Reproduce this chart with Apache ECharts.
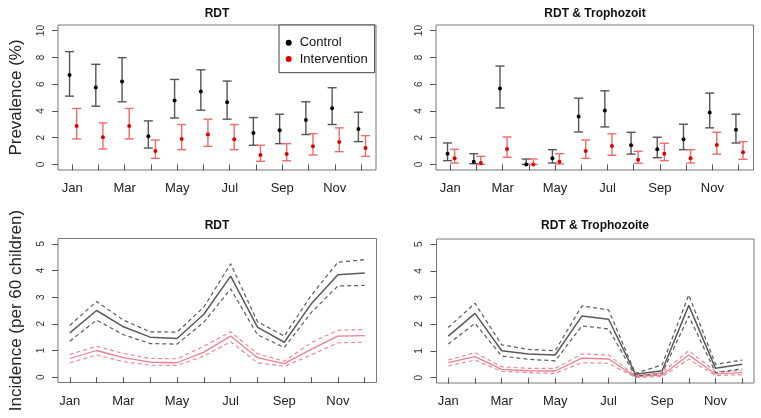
<!DOCTYPE html>
<html>
<head>
<meta charset="utf-8">
<script src="https://cdn.jsdelivr.net/npm/echarts@6/dist/echarts.min.js"></script>
<style>
html,body{margin:0;padding:0;background:#fff;}
#chart{width:761px;height:418px;}
</style>
</head>
<body>
<div id="chart"></div>
<script>
// ---------- data ----------
const months = ['Jan','Feb','Mar','Apr','May','Jun','Jul','Aug','Sep','Oct','Nov','Dec'];
const monthLabels = ['Jan','Mar','May','Jul','Sep','Nov'];
const prevTicks = [0,2,4,6,8,10];
const incTicks = [0,1,2,3,4,5];

// Prevalence, RDT
const rdtCtrl     = [6.68,5.75,6.20,2.10,4.78,5.45,4.65,2.35,2.55,3.32,4.20,2.65];
const rdtCtrlLo   = [5.10,4.35,4.68,1.22,3.47,4.05,3.38,1.43,1.55,2.23,2.98,1.70];
const rdtCtrlHi   = [8.43,7.48,7.98,3.25,6.35,7.07,6.23,3.50,3.75,4.68,5.73,3.90];
const rdtInt      = [2.87,2.03,2.87,1.00,1.90,2.23,1.88,0.70,0.77,1.35,1.67,1.22];
const rdtIntLo    = [1.90,1.15,1.90,0.45,1.10,1.35,1.10,0.23,0.27,0.70,0.95,0.60];
const rdtIntHi    = [4.18,3.10,4.18,1.82,2.98,3.38,2.98,1.43,1.55,2.30,2.73,2.15];

// Prevalence, RDT & Trophozoit
const trpCtrl     = [0.80,0.20,5.68,0.00,0.45,3.58,4.03,1.43,1.13,1.88,3.88,2.58];
const trpCtrlLo   = [0.28,0.05,4.22,0.00,0.10,2.42,2.80,0.77,0.50,1.10,2.73,1.60];
const trpCtrlHi   = [1.60,0.80,7.35,0.40,1.10,4.95,5.50,2.40,2.03,3.00,5.33,3.75];
const trpInt      = [0.45,0.10,1.15,0.00,0.20,1.00,1.38,0.35,0.80,0.45,1.45,0.90];
const trpIntLo    = [0.10,0.00,0.53,0.00,0.03,0.45,0.68,0.08,0.28,0.10,0.77,0.38];
const trpIntHi    = [1.13,0.60,2.05,0.40,0.80,1.82,2.28,0.98,1.58,1.10,2.40,1.70];

// Incidence, RDT
const incRdtCtrl   = [1.66,2.50,1.89,1.50,1.45,2.36,3.79,1.88,1.31,2.74,3.84,3.91];
const incRdtCtrlHi = [1.94,2.84,2.14,1.70,1.69,2.63,4.25,2.08,1.54,3.06,4.31,4.41];
const incRdtCtrlLo = [1.35,2.14,1.59,1.26,1.24,2.06,3.31,1.59,1.11,2.42,3.42,3.44];
const incRdtInt    = [0.70,1.00,0.73,0.56,0.54,0.94,1.54,0.73,0.51,1.04,1.54,1.56];
const incRdtIntHi  = [0.85,1.16,0.89,0.70,0.69,1.16,1.70,0.88,0.60,1.29,1.76,1.79];
const incRdtIntLo  = [0.54,0.83,0.58,0.45,0.44,0.79,1.33,0.54,0.41,0.83,1.29,1.31];

// Incidence, RDT & Trophozoite
const incTrpCtrl   = [1.56,2.41,1.01,0.89,0.85,2.31,2.19,0.13,0.26,2.71,0.35,0.50];
const incTrpCtrlHi = [1.88,2.79,1.23,1.06,1.01,2.69,2.54,0.16,0.48,3.10,0.50,0.66];
const incTrpCtrlLo = [1.26,2.04,0.81,0.69,0.63,1.94,1.83,0.06,0.16,2.31,0.19,0.33];
const incTrpInt    = [0.56,0.79,0.31,0.26,0.25,0.73,0.70,0.04,0.10,0.85,0.14,0.19];
const incTrpIntHi  = [0.66,0.94,0.41,0.35,0.35,0.89,0.85,0.08,0.19,1.01,0.23,0.26];
const incTrpIntLo  = [0.44,0.66,0.24,0.19,0.16,0.56,0.54,0.01,0.04,0.69,0.08,0.11];

// ---------- helpers ----------
const FONT = '"Liberation Sans", Arial, sans-serif';
const monthIdx = months.map((m, i) => i + 1);
const CTRL_OFF = -0.1, INT_OFF = 0.17;
const CTRL_BAR = '#555555', CTRL_PT = '#000000';
const INT_BAR = '#f06a6a', INT_PT = '#e00000';
const CTRL_LINE = '#5a5a5a', INT_LINE = '#ec7f90';

function pts(vals, off) { return vals.map((v, i) => [i + 1 + off, v]); }
function bars(lo, hi, off) { return lo.map((l, i) => [i + 1 + off, l, hi[i]]); }
function linePts(vals) { return vals.map((v, i) => [i + 1, v]); }

function errRender(color) {
  return function (params, api) {
    const x = api.value(0);
    const a = api.coord([x, api.value(1)]);
    const b = api.coord([x, api.value(2)]);
    const hw = 4.5;
    const st = { stroke: color, lineWidth: 1.4 };
    return {
      type: 'group',
      children: [
        { type: 'line', shape: { x1: a[0], y1: a[1], x2: b[0], y2: b[1] }, style: st },
        { type: 'line', shape: { x1: a[0] - hw, y1: a[1], x2: a[0] + hw, y2: a[1] }, style: st },
        { type: 'line', shape: { x1: b[0] - hw, y1: b[1], x2: b[0] + hw, y2: b[1] }, style: st }
      ]
    };
  };
}

function xAx(gi, min, max) {
  return {
    type: 'value', gridIndex: gi, min: min, max: max,
    axisLine: { show: false }, splitLine: { show: false },
    axisTick: { show: true, inside: false, length: 6, customValues: monthIdx, lineStyle: { color: '#555', width: 1 } },
    axisLabel: {
      customValues: monthLabels.map(m => months.indexOf(m) + 1),
      formatter: v => months[Math.round(v) - 1],
      fontSize: 13, color: '#222', margin: 12, fontFamily: FONT
    }
  };
}
function yAx(gi, min, max, ticks, name) {
  return {
    type: 'value', gridIndex: gi, min: min, max: max,
    axisLine: { show: false }, splitLine: { show: false },
    axisTick: { show: true, inside: false, length: 6, customValues: ticks, lineStyle: { color: '#555', width: 1 } },
    axisLabel: { customValues: ticks, rotate: 90, fontSize: 10, color: '#333', margin: 12, fontFamily: FONT },
    name: name || '', nameLocation: 'middle', nameRotate: 90, nameGap: 33,
    nameTextStyle: { fontSize: 17, color: '#222', fontFamily: FONT }
  };
}
function gridBox(left, top, width, height) {
  return { left: left, top: top, width: width, height: height, show: true, borderColor: '#777', borderWidth: 1, backgroundColor: 'transparent' };
}
function title(text, cx, cy) {
  return { text: text, left: cx, top: cy - 7, textAlign: 'center', padding: 0,
    textStyle: { fontSize: 12, fontWeight: 'bold', color: '#111', fontFamily: FONT } };
}

const series = [];
function prevPanel(gi, c, cLo, cHi, iv, iLo, iHi, named) {
  series.push({ type: 'custom', xAxisIndex: gi, yAxisIndex: gi, renderItem: errRender(CTRL_BAR), data: bars(cLo, cHi, CTRL_OFF), encode: { x: 0, y: [1, 2] }, silent: true, z: 2 });
  series.push({ type: 'custom', xAxisIndex: gi, yAxisIndex: gi, renderItem: errRender(INT_BAR), data: bars(iLo, iHi, INT_OFF), encode: { x: 0, y: [1, 2] }, silent: true, z: 2 });
  series.push({ name: named ? 'Control' : 'c' + gi, type: 'scatter', xAxisIndex: gi, yAxisIndex: gi, symbol: 'circle', symbolSize: 4, itemStyle: { color: CTRL_PT, opacity: 1 }, data: pts(c, CTRL_OFF), z: 3 });
  series.push({ name: named ? 'Intervention' : 'i' + gi, type: 'scatter', xAxisIndex: gi, yAxisIndex: gi, symbol: 'circle', symbolSize: 4, itemStyle: { color: INT_PT, opacity: 1 }, data: pts(iv, INT_OFF), z: 3 });
}
function incPanel(gi, c, cHi, cLo, iv, iHi, iLo) {
  const mk = (vals, color, w, dashed) => ({
    type: 'line', xAxisIndex: gi, yAxisIndex: gi, data: linePts(vals), symbol: 'none', silent: true,
    lineStyle: { color: color, width: w, type: dashed ? [4, 3] : 'solid' }
  });
  series.push(mk(iHi, INT_LINE, 1.1, true));
  series.push(mk(iLo, INT_LINE, 1.1, true));
  series.push(mk(iv, INT_LINE, 1.3, false));
  series.push(mk(cHi, CTRL_LINE, 1.2, true));
  series.push(mk(cLo, CTRL_LINE, 1.2, true));
  series.push(mk(c, CTRL_LINE, 1.5, false));
}

prevPanel(0, rdtCtrl, rdtCtrlLo, rdtCtrlHi, rdtInt, rdtIntLo, rdtIntHi, true);
prevPanel(1, trpCtrl, trpCtrlLo, trpCtrlHi, trpInt, trpIntLo, trpIntHi, false);
incPanel(2, incRdtCtrl, incRdtCtrlHi, incRdtCtrlLo, incRdtInt, incRdtIntHi, incRdtIntLo);
incPanel(3, incTrpCtrl, incTrpCtrlHi, incTrpCtrlLo, incTrpInt, incTrpIntHi, incTrpIntLo);

const option = {
  animation: false,
  backgroundColor: '#ffffff',
  textStyle: { fontFamily: FONT },
  title: [
    title('RDT', 217, 15),
    title('RDT & Trophozoit', 595, 15),
    title('RDT', 217, 227),
    title('RDT & Trophozoite', 595, 227)
  ],
  grid: [
    gridBox(58, 25, 318, 145),
    gridBox(436, 25, 317.5, 145),
    gridBox(58, 238.5, 318.5, 144),
    gridBox(436.5, 239, 317.5, 144)
  ],
  xAxis: [
    xAx(0, 0.46, 12.57),
    xAx(1, 0.46, 12.57),
    xAx(2, 0.56, 12.44),
    xAx(3, 0.56, 12.44)
  ],
  yAxis: [
    yAx(0, -0.42, 10.42, prevTicks, 'Prevalence (%)'),
    yAx(1, -0.42, 10.42, prevTicks, ''),
    yAx(2, -0.2, 5.2, incTicks, 'Incidence (per 60 children)'),
    yAx(3, -0.2, 5.2, incTicks, '')
  ],
  legend: {
    data: ['Control', 'Intervention'],
    orient: 'vertical', left: 279, top: 25,
    padding: [10.7, 7, 6.7, 6.7], itemGap: 2.3,
    itemWidth: 12, itemHeight: 6, icon: 'circle',
    borderColor: '#444', borderWidth: 1, backgroundColor: '#fff',
    selectedMode: false,
    textStyle: { fontSize: 13, color: '#111', lineHeight: 14, fontFamily: FONT }
  },
  series: series
};

const chart = echarts.init(document.getElementById('chart'), null, { renderer: 'canvas' });
chart.setOption(option);
</script>
</body>
</html>
